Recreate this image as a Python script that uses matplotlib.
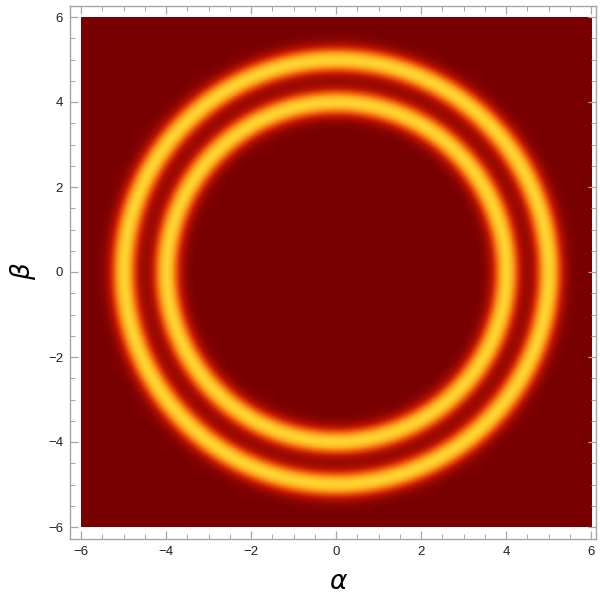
import numpy as np
import matplotlib
matplotlib.use("Agg")
import matplotlib.pyplot as plt
from matplotlib.colors import LinearSegmentedColormap
from matplotlib.ticker import MultipleLocator

# ring parameters
ring_radii = [4.0, 5.0]
ring_widths = [0.22, 0.22]
ring_heights = [1.0, 1.0]
x_range = [-6, 6]
y_range = [-6, 6]
major_ticks = [-6, -4, -2, 0, 2, 4, 6]

n = 600
xs = np.linspace(x_range[0], x_range[1], n)
ys = np.linspace(y_range[0], y_range[1], n)
X, Y = np.meshgrid(xs, ys)
R = np.sqrt(X**2 + Y**2)
Z = np.zeros_like(R)
for r0, w, h in zip(ring_radii, ring_widths, ring_heights):
    Z += h * np.exp(-(R - r0)**2 / (2 * w**2))

solar = LinearSegmentedColormap.from_list("solar", [
    (0.0, (0.471, 0.0, 0.0)),
    (0.3, (0.74, 0.08, 0.0)),
    (0.55, (0.92, 0.33, 0.04)),
    (0.8, (0.99, 0.64, 0.11)),
    (1.0, (1.0, 0.83, 0.19)),
])

fig = plt.figure(figsize=(6.0, 5.97), dpi=100)
ax = fig.add_axes([70/600, (597-539)/597, 526/600, 533/597])
ax.imshow(Z, extent=[x_range[0], x_range[1], y_range[0], y_range[1]],
          origin="lower", cmap=solar, interpolation="bilinear", aspect="auto")
ax.set_xlim(-6 - 11/42.5, 6 + 5/42.5)
ax.set_ylim(-6 - 12/42.5, 6 + 11/42.5)

ax.set_xticks(major_ticks)
ax.set_yticks(major_ticks)
ax.set_xticklabels([str(t).replace("-", "\u2212") for t in major_ticks])
ax.set_yticklabels([str(t).replace("-", "\u2212") for t in major_ticks])
ax.xaxis.set_minor_locator(MultipleLocator(0.5))
ax.yaxis.set_minor_locator(MultipleLocator(0.5))

frame_col = "#a6a6a6"
for s in ax.spines.values():
    s.set_color(frame_col)
    s.set_linewidth(1.0)
ax.tick_params(which="both", direction="in", top=True, right=True,
               color=frame_col, labelcolor="#222222", labelsize=9.5,
               labelfontfamily="Liberation Sans")
ax.tick_params(which="major", length=6, width=0.9, pad=5)
ax.tick_params(which="minor", length=3.5, width=0.7)
ax.tick_params(axis="x", which="both", labeltop=False)
ax.tick_params(axis="y", which="both", labelright=False)

ax.set_xlabel(r"$\alpha$", fontsize=19, va="center", ha="center")
ax.set_ylabel(r"$\beta$", fontsize=19, va="center", ha="center")
ax.xaxis.set_label_coords((339 - 70) / 526, -43 / 533)
ax.yaxis.set_label_coords((23.5 - 70) / 526, (539 - 271) / 533)

fig.savefig("out.png", dpi=100)
